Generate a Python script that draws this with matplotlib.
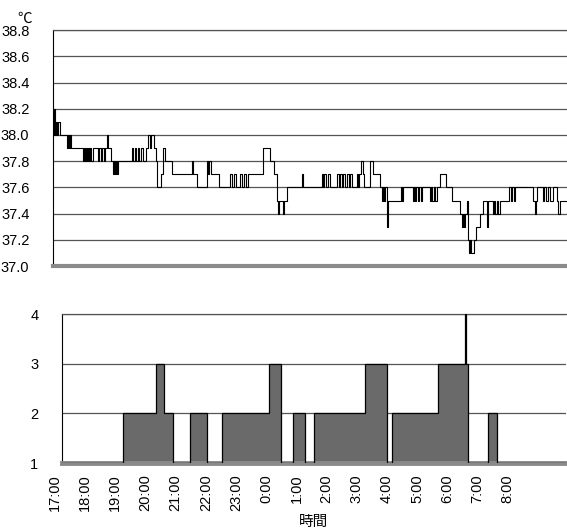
import matplotlib
matplotlib.use("Agg")
import matplotlib.pyplot as plt
import numpy as np

plt.rcParams["font.family"] = ["Liberation Sans", "Noto Sans CJK JP", "DejaVu Sans"]

# body temperature, step changes: minutes after 17:00 -> value (degC)
temp_minutes = [
    0, 2, 4, 6, 8, 10, 14, 27, 29, 31, 33, 35, 59, 60, 62, 64, 66, 68, 70, 72,
    74, 78, 88, 90, 94, 96, 99, 101, 105, 107, 113, 117, 119, 121, 123, 125, 127,
    154, 156, 160, 162, 166, 168, 172, 176, 181, 185, 189, 191, 197, 201, 203,
    211, 215, 218, 232, 271, 273, 281, 300, 302, 304, 308, 324, 345, 349, 353,
    357, 365, 369, 372, 376, 380, 410, 423, 431, 437, 439, 441, 448, 450, 456,
    486, 487, 525, 526, 528, 532, 536, 540, 554, 558, 560, 564, 565, 569, 573,
    577, 579, 583, 593, 595, 597, 601, 604, 606, 618, 624, 638, 642, 643, 645,
    647, 651, 653, 678, 680, 682, 702, 704, 706, 708, 712, 714, 718, 720, 735,
    737, 739, 743, 745, 749, 755, 766, 778, 794, 798, 800, 801, 803, 807, 809,
    811, 813, 815, 821, 825, 833, 838, 846, 848, 858, 860, 862, 866, 868, 872,
    889, 893, 895, 899, 901, 936, 940, 942, 944, 956, 958, 961, 965, 969, 975,
    983, 985, 989,
]
temp_values = [
    38.0, 38.2, 38.0, 38.1, 38.0, 38.1, 38.0, 37.9, 38.0, 37.9, 38.0, 37.9, 37.8,
    37.9, 37.8, 37.9, 37.8, 37.9, 37.8, 37.9, 37.8, 37.9, 37.8, 37.9, 37.8, 37.9,
    37.8, 37.9, 38.0, 37.9, 37.8, 37.7, 37.8, 37.7, 37.8, 37.7, 37.8, 37.9, 37.8,
    37.9, 37.8, 37.9, 37.8, 37.9, 37.8, 37.9, 38.0, 37.9, 38.0, 37.9, 37.8, 37.6,
    37.7, 37.9, 37.8, 37.7, 37.8, 37.7, 37.6, 37.8, 37.7, 37.8, 37.7, 37.6, 37.7,
    37.6, 37.7, 37.6, 37.7, 37.6, 37.7, 37.6, 37.7, 37.9, 37.8, 37.7, 37.5, 37.4,
    37.5, 37.4, 37.5, 37.6, 37.7, 37.6, 37.7, 37.6, 37.7, 37.6, 37.7, 37.6, 37.7,
    37.6, 37.7, 37.6, 37.7, 37.6, 37.7, 37.6, 37.7, 37.6, 37.7, 37.6, 37.7, 37.8,
    37.7, 37.6, 37.8, 37.7, 37.6, 37.5, 37.6, 37.5, 37.6, 37.3, 37.5, 37.6, 37.5,
    37.6, 37.5, 37.6, 37.5, 37.6, 37.5, 37.6, 37.5, 37.6, 37.5, 37.6, 37.5, 37.6,
    37.5, 37.6, 37.7, 37.6, 37.5, 37.4, 37.3, 37.4, 37.3, 37.4, 37.5, 37.2, 37.1,
    37.2, 37.1, 37.2, 37.3, 37.4, 37.5, 37.3, 37.5, 37.4, 37.5, 37.4, 37.5, 37.4,
    37.5, 37.6, 37.5, 37.6, 37.5, 37.6, 37.5, 37.4, 37.5, 37.6, 37.5, 37.6, 37.5,
    37.6, 37.5, 37.6, 37.5, 37.4, 37.5,
]

# level chart, step changes: minutes after 17:00 -> level
level_minutes = [0, 121, 187, 203, 221, 255, 288, 318, 412, 436, 459, 483, 501,
                 603, 646, 656, 748, 802, 804, 808, 847, 865]
level_values = [1, 2, 3, 2, 1, 2, 1, 2, 3, 1, 2, 1, 2, 3, 1, 2, 3, 4, 3, 1, 2, 1]

end_minute = 1002
hour_labels = ["17:00", "18:00", "19:00", "20:00", "21:00", "22:00", "23:00",
               "0:00", "1:00", "2:00", "3:00", "4:00", "5:00", "6:00", "7:00", "8:00"]
temp_ticks = [37.0, 37.2, 37.4, 37.6, 37.8, 38.0, 38.2, 38.4, 38.6, 38.8]
level_ticks = [1, 2, 3, 4]

grid_color = "#555555"
band_color = "#8a8a8a"

fig = plt.figure(figsize=(5.67, 5.28), dpi=100)

# temperature panel
ax1 = fig.add_axes([0.0935, 0.496, 0.9065, 0.447])
tx = np.array(temp_minutes + [end_minute])
ty = np.array(temp_values + [temp_values[-1]])
ax1.step(tx, ty, where="post", color="black", lw=0.8, zorder=3)
ax1.set_xlim(0, end_minute)
ax1.set_ylim(37.0, 38.8)
ax1.set_yticks(temp_ticks)
ax1.set_yticklabels([f"{v:.1f}" for v in temp_ticks], fontsize=10.5)
ax1.set_xticks([])
ax1.yaxis.grid(True, color=grid_color, lw=0.9)
ax1.set_axisbelow(True)
ax1.tick_params(axis="y", length=0, pad=17)
ax1.spines["right"].set_visible(False)
ax1.spines["top"].set_color(grid_color)
ax1.spines["top"].set_linewidth(0.9)
ax1.spines["left"].set_linewidth(0.8)
ax1.spines["bottom"].set_color(band_color)
ax1.spines["bottom"].set_linewidth(3.0)
fig.text(0.030, 0.965, "℃", fontsize=10.5, ha="left", va="center",
         family=["Noto Sans CJK JP", "DejaVu Sans"])

# level panel
ax2 = fig.add_axes([0.1093, 0.123, 0.889, 0.282])
lx = np.array(level_minutes + [end_minute])
ly = np.array(level_values + [level_values[-1]])
ax2.fill_between(lx, 1, ly, step="post", color="#6a6a6a", lw=0, zorder=2)
ax2.step(lx, ly, where="post", color="black", lw=0.9, zorder=3)
ax2.set_xlim(0, end_minute)
ax2.set_ylim(1, 4)
ax2.set_yticks(level_ticks)
ax2.set_yticklabels([str(v) for v in level_ticks], fontsize=10.5)
ax2.set_xticks(np.arange(len(hour_labels)) * 60)
# labels sit just left of their ticks, as in the original
ax2.set_xticklabels(hour_labels, rotation=90, fontsize=10.5, ha="right")
ax2.yaxis.grid(True, color=grid_color, lw=0.9)
ax2.set_axisbelow(True)
ax2.tick_params(axis="y", length=0, pad=17)
ax2.tick_params(axis="x", length=0, pad=8)
ax2.spines["right"].set_visible(False)
ax2.spines["top"].set_color(grid_color)
ax2.spines["top"].set_linewidth(0.9)
ax2.spines["left"].set_linewidth(0.8)
ax2.spines["bottom"].set_color(band_color)
ax2.spines["bottom"].set_linewidth(3.5)
ax2.set_xlabel("時間", fontsize=10.5, labelpad=3,
               family=["Noto Sans CJK JP", "DejaVu Sans"])

fig.savefig("out.png", dpi=100)
